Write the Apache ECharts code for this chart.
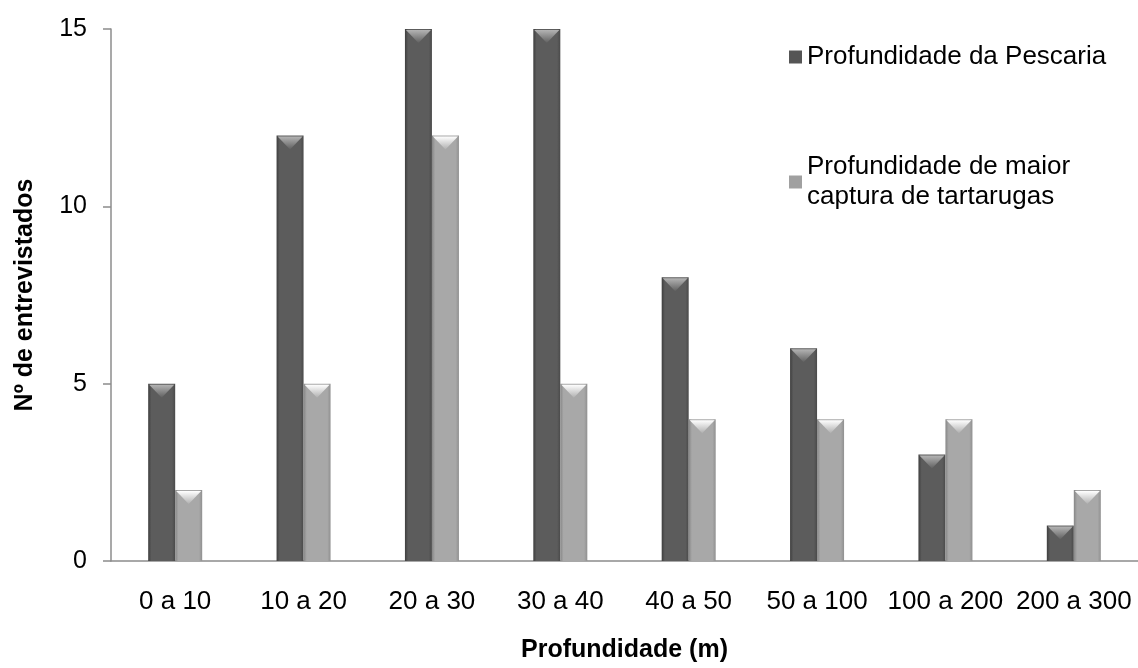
<!DOCTYPE html>
<html>
<head>
<meta charset="utf-8">
<script src="https://cdn.jsdelivr.net/npm/echarts@6/dist/echarts.min.js"></script>
<style>
  html, body { margin: 0; padding: 0; background: #fff; }
  #chart { width: 1138px; height: 668px; }
</style>
</head>
<body>
<div id="chart"></div>
<script>
// faixas de profundidade
const categories = ['0 a 10', '10 a 20', '20 a 30', '30 a 40', '40 a 50', '50 a 100', '100 a 200', '200 a 300'];
const pescaria = [5, 12, 15, 15, 8, 6, 3, 1];
const tartarugas = [2, 5, 12, 5, 4, 4, 4, 2];
const seriesNames = ['Profundidade da Pescaria', 'Profundidade de maior\ncaptura de tartarugas'];

const chart = echarts.init(document.getElementById('chart'));

const BAR_W = 27;

// barra com bisel: corpo com gradiente lateral + triangulo claro no topo
function bevelBar(offset, body, shine) {
  return function (params, api) {
    const top = api.coord([api.value(0), api.value(1)]);
    const base = api.coord([api.value(0), 0]);
    const x = top[0] + offset;
    const h = base[1] - top[1];
    const th = Math.min(14, h);
    return {
      type: 'group',
      children: [
        {
          type: 'rect',
          shape: { x: x, y: top[1], width: BAR_W, height: h },
          style: {
            fill: new echarts.graphic.LinearGradient(0, 0, 1, 0, [
              { offset: 0, color: body[0] },
              { offset: 0.12, color: body[1] },
              { offset: 0.88, color: body[1] },
              { offset: 1, color: body[2] }
            ])
          }
        },
        {
          type: 'polygon',
          shape: { points: [[x + 1, top[1] + 1], [x + BAR_W - 1, top[1] + 1], [x + BAR_W / 2, top[1] + th]] },
          style: {
            fill: new echarts.graphic.LinearGradient(0, 0, 0, 1, [
              { offset: 0, color: shine[0] },
              { offset: 1, color: shine[1] }
            ])
          }
        }
      ]
    };
  };
}

const option = {
  animation: false,
  textStyle: { fontFamily: 'Liberation Sans, Arial, sans-serif' },
  grid: { left: 111, top: 29, width: 1033, height: 536 },
  legend: {
    orient: 'vertical',
    left: 784,
    top: 37,
    itemGap: 80,
    itemWidth: 13,
    itemHeight: 13,
    icon: 'rect',
    textStyle: { fontSize: 26, color: '#000', lineHeight: 30 },
    data: [
      { name: seriesNames[0], itemStyle: { color: '#555' } },
      { name: seriesNames[1], itemStyle: { color: '#a0a0a0' } }
    ]
  },
  xAxis: {
    type: 'category',
    data: categories,
    name: 'Profundidade (m)',
    nameLocation: 'middle',
    nameGap: 77,
    nameTextStyle: { fontSize: 25, fontWeight: 'bold', color: '#000' },
    axisLine: { lineStyle: { color: '#8c8c8c', width: 1.5 } },
    axisTick: { show: false },
    axisLabel: { fontSize: 26, color: '#000', margin: 28, interval: 0 }
  },
  yAxis: {
    type: 'value',
    min: 0,
    max: 15,
    interval: 5,
    name: 'Nº de entrevistados',
    nameLocation: 'middle',
    nameGap: 73,
    nameTextStyle: { fontSize: 25, fontWeight: 'bold', color: '#000' },
    axisLine: { show: true, lineStyle: { color: '#8c8c8c', width: 1.5 } },
    axisTick: { show: true, length: 8, lineStyle: { color: '#8c8c8c', width: 1.5 } },
    axisLabel: { fontSize: 25, color: '#000', margin: 24 },
    splitLine: { show: false }
  },
  series: [
    {
      name: seriesNames[0],
      type: 'custom',
      data: pescaria.map((v, i) => [i, v]),
      encode: { x: 0, y: 1 },
      itemStyle: { color: '#555' },
      renderItem: bevelBar(-BAR_W, ['#3e3e3e', '#5c5c5c', '#4a4a4a'], ['#b4b4b4', '#606060'])
    },
    {
      name: seriesNames[1],
      type: 'custom',
      data: tartarugas.map((v, i) => [i, v]),
      encode: { x: 0, y: 1 },
      itemStyle: { color: '#a0a0a0' },
      renderItem: bevelBar(0, ['#868686', '#a8a8a8', '#909090'], ['#ffffff', '#b0b0b0'])
    }
  ]
};

chart.setOption(option);
</script>
</body>
</html>
